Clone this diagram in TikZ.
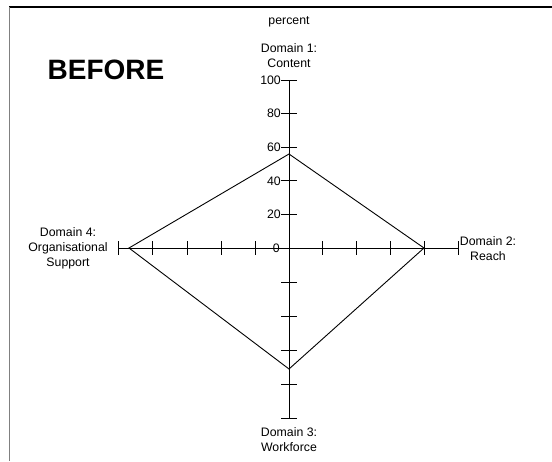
\documentclass[tikz,border=0pt]{standalone}
\usepackage{fontspec}
\setmainfont{Liberation Sans}
\begin{document}
\begin{tikzpicture}[x=1pt,y=-1pt,
  lbl/.style={font=\fontsize{12.3}{15}\selectfont,inner sep=0pt,align=center},
  tlbl/.style={font=\fontsize{12.3}{15}\selectfont,inner sep=0pt,anchor=east},
  axis/.style={line width=0.9pt,black},
  poly/.style={line width=0.9pt,black}]
\useasboundingbox (0,0) rectangle (552,461);
\draw[line width=1.3pt] (9,7) -- (552,7);
\draw[line width=1.6pt,gray] (9.5,7) -- (9.5,461);
% centre and axis ends
\coordinate (o) at (289,248);
\coordinate (top) at (289,80);
\coordinate (right) at (458,248);
\coordinate (bottom) at (289,418);
\coordinate (left) at (118,248);
\draw[axis] (top) -- (bottom);
\draw[axis] (left) -- (right);
% ticks on vertical axis
\foreach \y in {80,113.6,147.2,180.8,214.4,282,316,350,384,418}
  \draw[axis] (281,\y) -- (297,\y);
% ticks on horizontal axis
\foreach \x in {118,152,187,221,255,322,356,390,424,458}
  \draw[axis] (\x,241) -- (\x,255);
% tick labels
\node[tlbl] (t100) at (281,80) {100};
\node[tlbl] (t80) at (281,113.6) {80};
\node[tlbl] (t60) at (281,147.2) {60};
\node[tlbl] (t40) at (281,180.8) {40};
\node[tlbl] (t20) at (281,214.4) {20};
\node[tlbl] (t0) at (280,248) {0};
% polygon
\coordinate (p1) at (289,154);
\coordinate (p2) at (424,248);
\coordinate (p3) at (289,369);
\coordinate (p4) at (129,248);
\draw[poly] (p1) -- (p2) -- (p3) -- (p4) -- cycle;
% labels
\node[lbl] (pc) at (289,22) {percent};
\node[lbl] (d1) at (289,55.5) {Domain 1:\\Content};
\node[lbl] (d2) at (488,249) {Domain 2:\\Reach};
\node[lbl] (d3) at (289,439.5) {Domain 3:\\Workforce};
\node[lbl] (d4) at (68,248.5) {Domain 4:\\Organisational\\Support};
\node[font=\fontsize{28}{32}\selectfont\bfseries,inner sep=0pt] (before) at (106,70) {BEFORE};
\end{tikzpicture}
\end{document}
